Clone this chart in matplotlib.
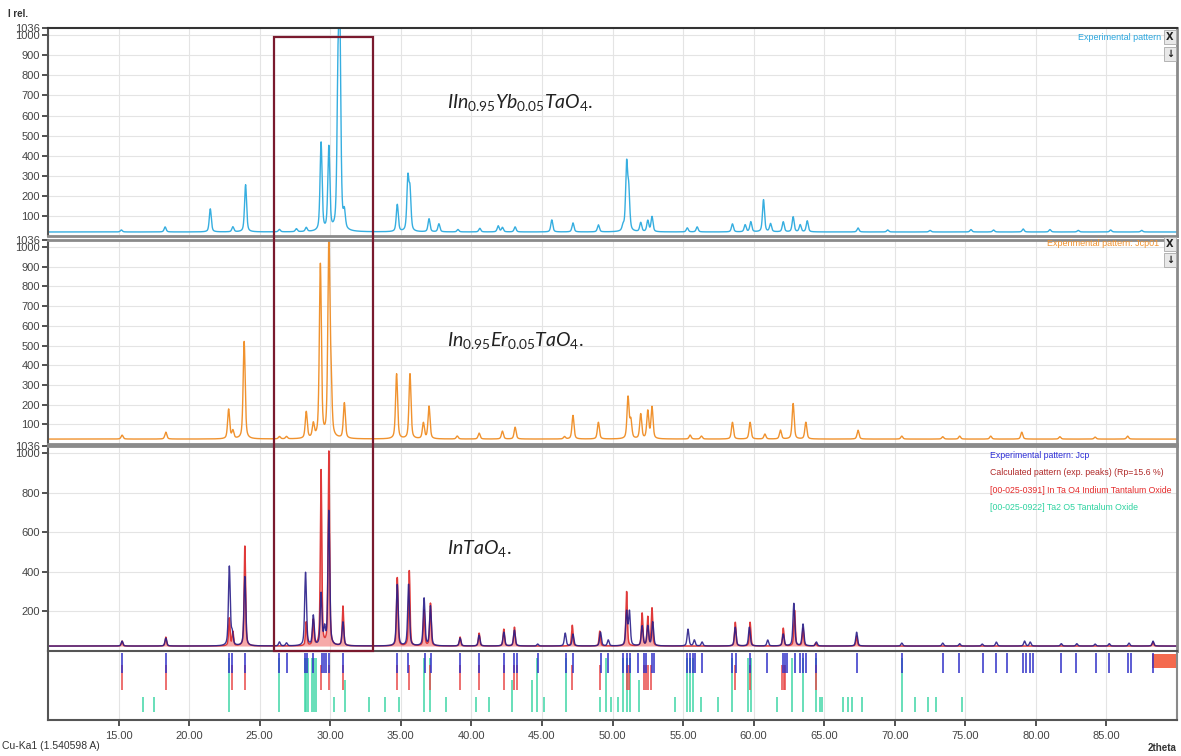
import numpy as np
import matplotlib
matplotlib.use('Agg')
import matplotlib.pyplot as plt
from matplotlib.patches import Rectangle
from matplotlib.transforms import blended_transform_factory

plt.rcParams['font.family'] = ['Liberation Sans', 'DejaVu Sans']
plt.rcParams['mathtext.fontset'] = 'custom'
plt.rcParams['mathtext.it'] = 'Lato:italic'
plt.rcParams['mathtext.rm'] = 'Lato'

# peak lists: (2theta, intensity above background)
yb_peaks = [(15.2, 10), (18.3, 25), (21.5, 115), (23.1, 25), (24.0, 235), (26.4, 12),
            (27.6, 15), (28.3, 20), (29.35, 440), (29.9, 415), (30.55, 690), (30.68, 950),
            (31.0, 80), (34.75, 135), (35.5, 255), (35.65, 190), (37.0, 65), (37.7, 40),
            (39.05, 12), (40.6, 18), (41.9, 30), (42.2, 22), (43.1, 25), (45.7, 60),
            (47.2, 45), (49.0, 35), (50.75, 25), (51.0, 325), (51.15, 190), (52.0, 45),
            (52.5, 55), (52.8, 75), (55.3, 20), (56.0, 25), (58.5, 40), (59.4, 35),
            (59.8, 50), (60.7, 160), (61.2, 40), (62.1, 50), (62.8, 75), (63.3, 35),
            (63.8, 55), (67.4, 20), (69.5, 10), (72.5, 8), (75.4, 12), (77.0, 10),
            (79.1, 15), (81.0, 12), (83.0, 8), (85.3, 10), (87.5, 8)]
er_peaks = [(15.25, 20), (18.35, 35), (22.8, 150), (23.1, 40), (23.9, 495), (26.4, 12),
            (26.9, 12), (28.3, 135), (28.8, 70), (29.3, 880), (29.9, 980), (30.05, 250),
            (31.0, 180), (34.7, 330), (35.65, 330), (36.6, 80), (37.0, 165), (39.0, 15),
            (40.55, 30), (42.2, 40), (43.1, 60), (46.6, 12), (47.2, 120), (49.0, 85),
            (51.1, 210), (51.3, 90), (52.0, 125), (52.5, 140), (52.8, 160), (55.5, 20),
            (56.3, 15), (58.5, 85), (59.75, 85), (60.8, 25), (61.9, 45), (62.8, 180),
            (63.7, 85), (67.4, 45), (70.5, 15), (73.4, 12), (74.6, 15), (76.8, 15),
            (79.0, 35), (81.7, 12), (84.2, 10), (86.5, 15)]
exp_peaks = [(15.25, 25), (18.35, 40), (22.85, 400), (23.05, 60), (23.95, 350), (26.4, 20),
             (26.9, 15), (28.25, 370), (28.8, 150), (29.35, 260), (29.6, 80), (29.9, 680),
             (30.9, 120), (34.75, 310), (35.55, 310), (36.65, 240), (37.1, 200), (39.2, 40),
             (40.55, 55), (42.3, 70), (43.05, 80), (44.7, 10), (46.65, 65), (47.2, 60),
             (49.15, 70), (49.7, 30), (51.0, 170), (51.2, 170), (52.1, 100), (52.5, 100),
             (52.85, 120), (55.35, 85), (55.8, 30), (56.35, 20), (58.7, 95), (59.7, 95),
             (61.0, 30), (62.1, 60), (62.85, 215), (63.5, 110), (64.45, 20), (67.3, 70),
             (70.5, 15), (73.4, 15), (74.6, 12), (76.2, 10), (77.2, 20), (79.2, 25),
             (79.6, 20), (81.8, 12), (82.9, 12), (84.2, 10), (85.2, 12), (86.6, 15), (88.3, 25)]
calc_peaks = [(15.25, 25), (18.35, 45), (22.85, 140), (23.1, 70), (23.95, 505), (28.3, 120),
              (28.8, 130), (29.35, 885), (29.9, 980), (30.9, 200), (34.75, 345), (35.6, 380),
              (36.65, 180), (37.1, 215), (39.2, 45), (40.55, 65), (42.3, 85), (43.05, 95),
              (47.15, 105), (49.1, 75), (51.0, 275), (52.1, 165), (52.5, 145), (52.8, 190),
              (58.7, 120), (59.75, 120), (62.1, 90), (62.9, 180), (63.5, 90), (64.4, 15),
              (67.3, 50), (88.3, 20)]

# reflection positions in the tick strip
jcp_ticks = [15.25, 18.35, 22.85, 23.05, 23.95, 26.4, 26.9, 28.2, 28.35, 28.8, 29.4, 29.55,
             29.7, 29.9, 30.9, 34.7, 35.5, 36.7, 37.15, 39.2, 40.55, 42.3, 43.0, 43.2, 44.7,
             46.7, 47.2, 49.2, 49.7, 50.75, 51.0, 51.25, 51.8, 52.2, 52.4, 52.8, 52.95, 55.3,
             55.5, 55.7, 55.85, 56.35, 58.5, 58.75, 59.75, 60.95, 62.1, 62.25, 62.4, 62.95,
             63.3, 63.5, 63.7, 64.4, 67.3, 70.5, 73.4, 74.55, 76.25, 77.2, 77.95, 79.1, 79.3,
             79.55, 79.8, 81.8, 82.85, 84.25, 85.2, 86.55, 86.75, 88.3]
intao4_ticks = [15.25, 18.35, 23.05, 23.95, 29.35, 29.9, 30.9, 34.7, 35.6, 37.1, 39.2, 40.55,
                42.3, 43.0, 43.2, 47.15, 49.1, 51.0, 51.2, 52.2, 52.35, 52.55, 52.7, 58.7,
                59.75, 62.0, 62.15, 62.25, 64.4]
intao4_band = (88.2, 90.0)
ta2o5_ticks = [(16.75, 's'), (17.5, 's'), (22.85, 'l'), (26.4, 'l'), (28.2, 'l'), (28.3, 'l'),
               (28.4, 'l'), (28.7, 'l'), (28.85, 'l'), (29.0, 'l'), (30.3, 's'), (31.05, 'm'),
               (32.75, 's'), (33.9, 's'), (34.9, 's'), (36.65, 'l'), (37.1, 'l'), (38.2, 's'),
               (40.3, 's'), (41.25, 's'), (42.9, 'm'), (44.3, 'm'), (44.65, 'l'), (45.15, 's'),
               (46.7, 'l'), (49.1, 's'), (49.55, 'l'), (49.9, 's'), (50.4, 's'), (50.75, 'l'),
               (51.0, 'l'), (51.25, 'l'), (51.9, 'm'), (54.45, 's'), (55.3, 'l'), (55.5, 'l'),
               (55.7, 'l'), (56.3, 's'), (57.5, 's'), (58.5, 'l'), (59.6, 'l'), (59.8, 'l'),
               (61.65, 's'), (62.7, 'l'), (63.5, 'l'), (64.4, 'l'), (64.7, 's'), (64.85, 's'),
               (66.35, 's'), (66.7, 's'), (67.0, 's'), (67.7, 's'), (70.5, 'l'), (71.4, 's'),
               (72.35, 's'), (72.9, 's'), (74.8, 's')]

x_ticks = [15, 20, 25, 30, 35, 40, 45, 50, 55, 60, 65, 70, 75, 80, 85]


def pattern(x, peaks, base, fwhm):
    out = np.full_like(x, base)
    for p, h in peaks:
        d = (x - p) / fwhm
        out += h * (0.5 / (1 + 4 * d ** 2) + 0.5 * np.exp(-4 * np.log(2) * d ** 2))
    return out


tt = np.arange(10, 90.001, 0.01)
W, H = 1181, 756
fig = plt.figure(figsize=(W / 100, H / 100), dpi=100)
L, R = 48 / W, 1129 / W


def box(top, bot):
    return [L, 1 - bot / H, R, (bot - top) / H]


ax1 = fig.add_axes(box(28, 236))
ax2 = fig.add_axes(box(240, 444), sharex=ax1)
ax3 = fig.add_axes(box(446, 651), sharex=ax1)
ax4 = fig.add_axes(box(651, 720), sharex=ax1)

grid_c = '#e4e4e4'
for ax, yt in [(ax1, range(100, 1001, 100)), (ax2, range(100, 1001, 100)), (ax3, range(200, 1001, 200))]:
    ax.set_ylim(0, 1036)
    ticks = list(yt) + [1036]
    ax.set_yticks(ticks)
    ax.set_yticklabels([str(t) for t in ticks])
    ax.tick_params(axis='y', labelsize=8, labelcolor='#444444', length=4, width=1.2, color='#333333', pad=2)
    ax.tick_params(axis='x', labelbottom=False, length=0)
    for y in yt:
        ax.axhline(y, color=grid_c, lw=0.8, zorder=0)
    for s in ax.spines.values():
        s.set_color('#8a8a8a')
        s.set_linewidth(2)
    ax.spines['left'].set_color('#555555')
    ax.spines['left'].set_linewidth(1.5)

ax1.spines['top'].set_color('#333333')
ax1.spines['top'].set_linewidth(1.5)

for ax in (ax1, ax2, ax3, ax4):
    for xv in x_ticks:
        ax.axvline(xv, color=grid_c, lw=0.8, zorder=0)
ax1.set_xlim(10, 90)

ax1.plot(tt, pattern(tt, yb_peaks, 20, 0.17), color='#36aee0', lw=1.0)
ax2.plot(tt, pattern(tt, er_peaks, 25, 0.17), color='#f0922e', lw=1.0)
calc = pattern(tt, calc_peaks, 25, 0.12)
ax3.fill_between(tt, 25, calc, color='#f07070', alpha=0.6, lw=0)
ax3.plot(tt, calc, color='#e03a3a', lw=1.1)
ax3.plot(tt, pattern(tt, exp_peaks, 25, 0.15), color='#2a1f8a', lw=1.0, alpha=0.9)

# legends
ax1.text(0.9858, 0.955, 'Experimental pattern', transform=ax1.transAxes, ha='right', va='center',
         fontsize=6.5, color='#2aa6de')
ax2.text(0.9845, 0.982, 'Experimental pattern: Jcp01', transform=ax2.transAxes, ha='right', va='center',
         fontsize=6.5, color='#f0922e')
for ax, y1, y2 in [(ax1, 0.957, 0.875), (ax2, 0.982, 0.9)]:
    for y, s in [(y1, 'X'), (y2, '↓')]:
        ax.text(0.9938, y, s, transform=ax.transAxes, ha='center', va='center', fontsize=7,
                fontweight='bold', color='#222222', family=['DejaVu Sans'],
                bbox=dict(boxstyle='square,pad=0.2', fc='#e8e8e8', ec='#aaaaaa', lw=0.6))

leg = [('Experimental pattern: Jcp', '#2b2bd6'),
       ('Calculated pattern (exp. peaks) (Rp=15.6 %)', '#b02a2a'),
       ('[00-025-0391] In Ta O4 Indium Tantalum Oxide', '#e52a2a'),
       ('[00-025-0922] Ta2 O5 Tantalum Oxide', '#2ed3a0')]
for i, (s, c) in enumerate(leg):
    ax3.text(0.834, 0.956 - i * 0.086, s, transform=ax3.transAxes, ha='left', va='center',
             fontsize=6.3, color=c)

# compound labels
ax1.text(38.3, 0.64, r'$\mathit{IIn_{0.95}Yb_{0.05}TaO_{4}.}$', transform=ax1.get_xaxis_transform(),
         fontsize=14, color='#222222', va='center')
ax2.text(38.3, 0.505, r'$\mathit{In_{0.95}Er_{0.05}TaO_{4}.}$', transform=ax2.get_xaxis_transform(),
         fontsize=14, color='#222222', va='center')
ax3.text(38.3, 0.5, r'$\mathit{InTaO_{4}.}$', transform=ax3.get_xaxis_transform(),
         fontsize=14, color='#222222', va='center')

# reflection strip
ax4.set_ylim(69, 0)
ax4.set_yticks([])
for p, k in ta2o5_ticks:
    top = {'l': 7, 'm': 29, 's': 46}[k]
    ax4.vlines(p, top, 61, color='#3ed6a6', lw=1.1)
ax4.vlines(intao4_ticks, 14, 39, color='#e84848', lw=1.1)
ax4.fill_between(intao4_band, 3, 17, color='#f46a4e', lw=0)
ax4.vlines(jcp_ticks, 2, 22, color='#3030c8', lw=1.1)
ax4.set_xticks(x_ticks)
ax4.set_xticklabels(['%.2f' % v for v in x_ticks])
ax4.tick_params(axis='x', labelsize=8, labelcolor='#444444', length=4, width=1.2, color='#333333', pad=4)
for s in ax4.spines.values():
    s.set_color('#555555')
    s.set_linewidth(1.5)
ax4.spines['right'].set_color('#8a8a8a')

# highlight box across the panels
tr = blended_transform_factory(ax1.transData, fig.transFigure)
fig.add_artist(Rectangle((26.0, 1 - 651 / H), 7.0, (651 - 37) / H, transform=tr, fill=False,
                         ec='#7a1a2e', lw=1.6, zorder=10))

fig.text(8 / W, 1 - 14 / H, 'I rel.', fontsize=7, fontweight='bold', color='#333333', va='center')
fig.text(2 / W, 1 - 746 / H, 'Cu-Ka1 (1.540598 A)', fontsize=7.5, color='#333333', va='center')
fig.text(1176 / W, 1 - 748 / H, '2theta', fontsize=7, fontweight='bold', color='#333333',
         va='center', ha='right')

fig.savefig('out.png', dpi=100)
